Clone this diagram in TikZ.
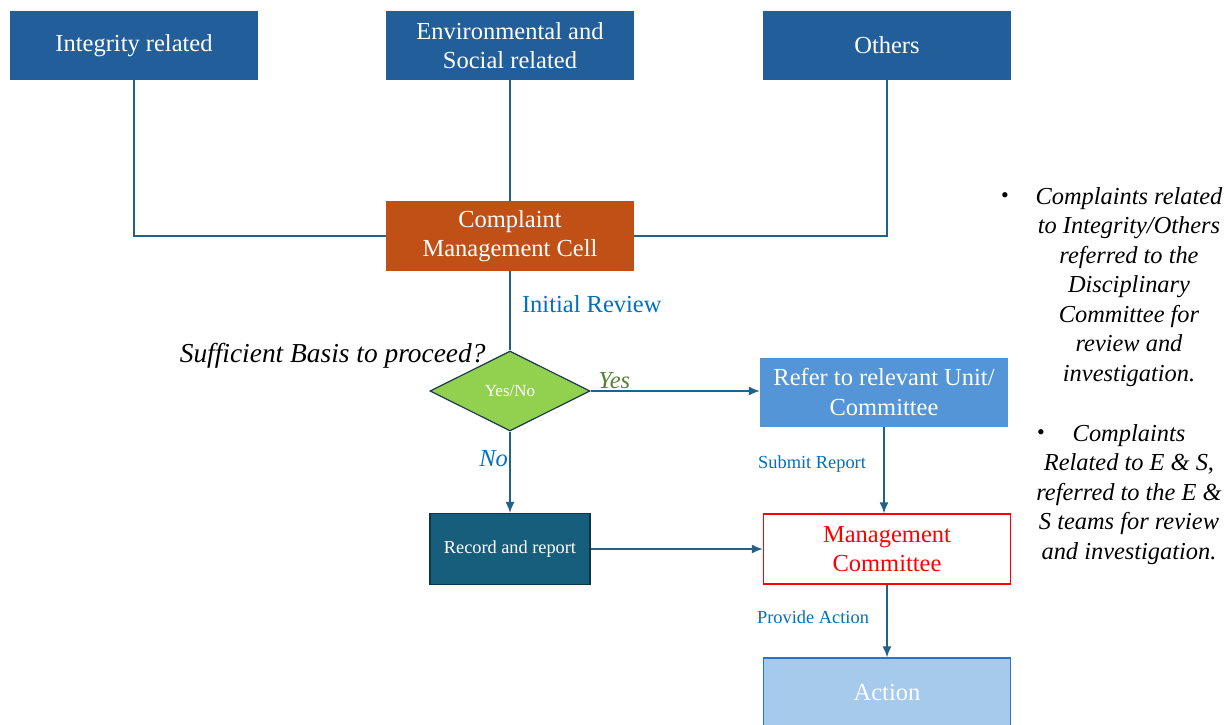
\documentclass[tikz,border=0pt]{standalone}
\usepackage{fontspec}
\setmainfont{Liberation Serif}
\usetikzlibrary{shapes.geometric,arrows.meta}

\definecolor{topblue}{RGB}{34,94,154}
\definecolor{cellorange}{RGB}{192,80,22}
\definecolor{linecol}{RGB}{33,98,138}
\definecolor{dgreen}{RGB}{146,208,80}
\definecolor{dborder}{RGB}{28,58,74}
\definecolor{referblue}{RGB}{84,149,215}
\definecolor{recordteal}{RGB}{23,94,125}
\definecolor{recordborder}{RGB}{14,52,72}
\definecolor{actionfill}{RGB}{166,202,236}
\definecolor{actionborder}{RGB}{38,118,196}
\definecolor{labelblue}{RGB}{0,112,192}
\definecolor{yesgreen}{RGB}{84,130,53}

\begin{document}
\begin{tikzpicture}[x=1pt,y=-1pt,
  box/.style={rectangle,minimum width=248pt,minimum height=69pt,inner sep=2pt,align=center,text=white,font=\fontsize{24.5}{29.5}\selectfont},
  topbox/.style={box,fill=topblue},
  link/.style={draw=linecol,line width=1.4pt},
  arr/.style={link,-{Latex[length=11pt,width=9pt]}},
  tag/.style={text=labelblue,font=\fontsize{18.4}{21}\selectfont}]
\useasboundingbox[fill=white] (0,0) rectangle (1227,725);
% sources
\node[topbox] (integ) at (134,45.5) {Integrity related};
\node[topbox] (envsoc) at (510,45.5) {Environmental and\\Social related};
\node[topbox] (others) at (887,45.5) {Others};
\node[box,fill=cellorange,minimum height=70pt] (cell) at (510,236) {Complaint\\Management Cell};
\draw[link] (integ.south) |- (cell.west);
\draw[link] (others.south) |- (cell.east);
\draw[link] (envsoc.south) -- (cell.north);
% decision
\node[diamond,aspect=2,fill=dgreen,draw=dborder,line width=1.2pt,minimum width=160pt,minimum height=80pt,inner sep=0pt,text=white,font=\fontsize{17}{19}\selectfont] (dec) at (510,391) {Yes/No};
\draw[link] (cell.south) -- node[pos=0.42,right=8pt,text=labelblue,font=\fontsize{24.5}{28}\selectfont]{Initial Review} (dec.north);
\node[anchor=base east,font=\fontsize{27.4}{31}\selectfont\itshape] (basis) at (489,362) {Sufficient Basis to proceed?};
\node[box,fill=referblue] (refer) at (884,392) {Refer to relevant Unit/\\Committee};
\draw[arr] (dec.east) -- node[pos=0.14,above=-2pt,text=yesgreen,font=\fontsize{24.5}{28}\selectfont\itshape]{Yes} (dec.east -| refer.west);
\node[box,fill=recordteal,draw=recordborder,line width=1.2pt,minimum width=160pt,minimum height=71pt,font=\fontsize{18.3}{21}\selectfont] (record) at (510,549) {Record and report};
\draw[arr] (dec.south) -- node[pos=0.33,left=-2pt,text=labelblue,font=\fontsize{24.5}{28}\selectfont\itshape]{No} (record.north);
\node[box,fill=white,draw=red,line width=1.4pt,text=red,minimum width=247pt,minimum height=70pt] (mgmt) at (887,549) {Management\\Committee};
\draw[arr] (refer.south) -- node[pos=0.43,left=14pt,tag]{Submit Report} (refer.south |- mgmt.north);
\draw[arr] (record.east) -- (mgmt.west);
\node[box,fill=actionfill,draw=actionborder,line width=1.4pt,minimum width=247pt,minimum height=70pt] (action) at (887,693) {Action};
\draw[arr] (mgmt.south) -- node[pos=0.45,left=14pt,tag]{Provide Action} (action.north);
% notes
\node[align=center,anchor=north,font=\fontsize{24.4}{29.5}\selectfont\itshape] (note1) at (1129,184) {Complaints related\\to Integrity/Others\\referred to the\\Disciplinary\\Committee for\\review and\\investigation.};
\node[font=\fontsize{22}{26}\selectfont] (bul1) at (1005,198) {\textbullet};
\node[align=center,anchor=north,font=\fontsize{24.4}{29.5}\selectfont\itshape] (note2) at (1129,421) {Complaints\\Related to E \& S,\\referred to the E \&\\S teams for review\\and investigation.};
\node[font=\fontsize{22}{26}\selectfont] (bul2) at (1041,435) {\textbullet};
\end{tikzpicture}
\end{document}
